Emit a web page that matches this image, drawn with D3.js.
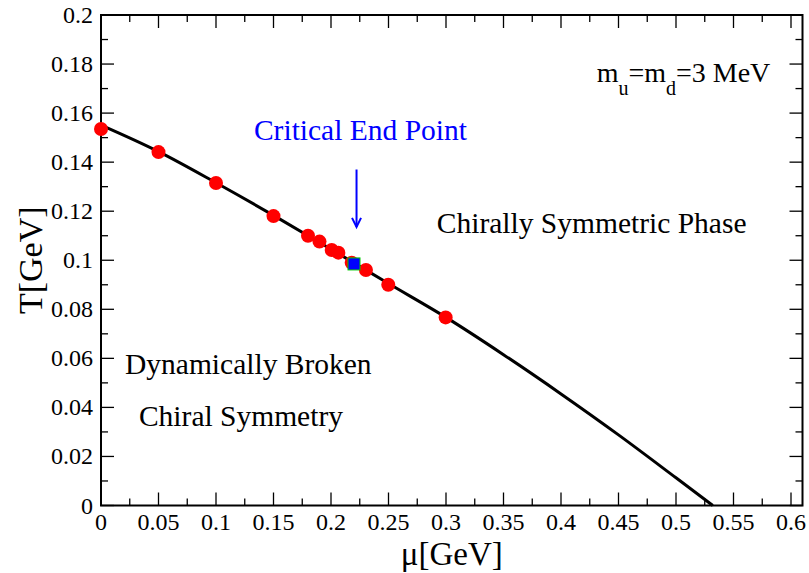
<!DOCTYPE html>
<html>
<head>
<meta charset="utf-8">
<script src="https://cdn.jsdelivr.net/npm/d3@7"></script>
<style>
  html, body { margin: 0; padding: 0; background: #fff; }
  svg { display: block; }
</style>
</head>
<body>
<svg id="chart" width="809" height="573"></svg>
<script>
// Phase boundary curve T(mu)
const curveMu = [0, 0.05, 0.1, 0.15, 0.2, 0.25, 0.3, 0.35, 0.4, 0.45, 0.5, 0.532];
const curveT  = [0.1551, 0.1443, 0.1316, 0.1183, 0.1045, 0.0905, 0.0767, 0.0615, 0.0455, 0.0288, 0.0113, 0];

// Computed transition points
const pointMu = [0, 0.05, 0.1, 0.15, 0.18, 0.19, 0.2006, 0.2064, 0.218, 0.2304, 0.2498, 0.2997];
const pointT  = [0.1535, 0.1441, 0.1315, 0.1180, 0.1100, 0.1076, 0.1042, 0.1031, 0.0990, 0.0960, 0.0900, 0.0767];

// Critical end point
const cepMu = [0.22];
const cepT  = [0.0985];

// Axis ticks
const xTicks = [0, 0.05, 0.1, 0.15, 0.2, 0.25, 0.3, 0.35, 0.4, 0.45, 0.5, 0.55, 0.6];
const xTickLabels = ["0", "0.05", "0.1", "0.15", "0.2", "0.25", "0.3", "0.35", "0.4", "0.45", "0.5", "0.55", "0.6"];
const yTicks = [0, 0.02, 0.04, 0.06, 0.08, 0.1, 0.12, 0.14, 0.16, 0.18, 0.2];
const yTickLabels = ["0", "0.02", "0.04", "0.06", "0.08", "0.1", "0.12", "0.14", "0.16", "0.18", "0.2"];

const FONT = "'Liberation Serif', 'Times New Roman', Times, serif";

const svg = d3.select("#chart").attr("font-family", FONT);
const x = d3.scaleLinear().domain([0, 0.61]).range([101, 802.5]);
const y = d3.scaleLinear().domain([0, 0.2]).range([505.5, 15]);

const x0 = x(0), x1 = x(0.61), y0 = y(0), y1 = y(0.2);
const majorLen = 13, minorLen = 7;

// Minor tick values
const xMinor = d3.range(0.025, 0.61, 0.05);
const yMinor = d3.range(0.01, 0.2, 0.02);

const ticks = svg.append("g").attr("stroke", "#000").attr("stroke-width", 1.3);
// bottom & top
xTicks.forEach(v => {
  ticks.append("line").attr("x1", x(v)).attr("x2", x(v)).attr("y1", y0).attr("y2", y0 - majorLen);
  ticks.append("line").attr("x1", x(v)).attr("x2", x(v)).attr("y1", y1).attr("y2", y1 + majorLen);
});
xMinor.forEach(v => {
  ticks.append("line").attr("x1", x(v)).attr("x2", x(v)).attr("y1", y0).attr("y2", y0 - minorLen);
  ticks.append("line").attr("x1", x(v)).attr("x2", x(v)).attr("y1", y1).attr("y2", y1 + minorLen);
});
// left & right
yTicks.forEach(v => {
  ticks.append("line").attr("y1", y(v)).attr("y2", y(v)).attr("x1", x0).attr("x2", x0 + majorLen);
  ticks.append("line").attr("y1", y(v)).attr("y2", y(v)).attr("x1", x1).attr("x2", x1 - majorLen);
});
yMinor.forEach(v => {
  ticks.append("line").attr("y1", y(v)).attr("y2", y(v)).attr("x1", x0).attr("x2", x0 + minorLen);
  ticks.append("line").attr("y1", y(v)).attr("y2", y(v)).attr("x1", x1).attr("x2", x1 - minorLen);
});

// frame
svg.append("rect")
  .attr("x", x0).attr("y", y1).attr("width", x1 - x0).attr("height", y0 - y1)
  .attr("fill", "none").attr("stroke", "#000").attr("stroke-width", 2);

// tick labels
svg.append("g").selectAll("text").data(xTicks).join("text")
  .attr("x", d => x(d)).attr("y", 530)
  .attr("text-anchor", "middle").attr("font-size", 24)
  .text((d, i) => xTickLabels[i]);

svg.append("g").selectAll("text").data(yTicks).join("text")
  .attr("x", 93).attr("y", d => y(d) + 8)
  .attr("text-anchor", "end").attr("font-size", 24)
  .text((d, i) => yTickLabels[i]);

// axis titles
svg.append("text")
  .attr("x", (x0 + x1) / 2).attr("y", 565)
  .attr("text-anchor", "middle").attr("font-size", 33)
  .text("\u03bc[GeV]");

svg.append("text")
  .attr("transform", `translate(42,${(y0 + y1) / 2}) rotate(-90)`)
  .attr("text-anchor", "middle").attr("font-size", 34)
  .text("T[GeV]");

// phase boundary
const lineData = curveMu.map((m, i) => [m, curveT[i]]);
svg.append("path")
  .datum(lineData)
  .attr("fill", "none").attr("stroke", "#000").attr("stroke-width", 3)
  .attr("d", d3.line().x(d => x(d[0])).y(d => y(d[1])).curve(d3.curveMonotoneX));

// transition points
svg.append("g").selectAll("circle").data(pointMu).join("circle")
  .attr("cx", d => x(d)).attr("cy", (d, i) => y(pointT[i]))
  .attr("r", 7).attr("fill", "#ff0000");

// critical end point marker
svg.append("g").selectAll("rect").data(cepMu).join("rect")
  .attr("x", d => x(d) - 6).attr("y", (d, i) => y(cepT[i]) - 6)
  .attr("width", 12).attr("height", 12)
  .attr("fill", "#0000ff").attr("stroke", "#00cc00").attr("stroke-width", 1);

// annotations
const ann = svg.append("g").attr("font-size", 29.5);
ann.append("text").attr("x", x(0.133)).attr("y", y(0.149)).attr("fill", "#0000ff").text("Critical End Point");
ann.append("text").attr("x", x(0.292)).attr("y", y(0.1111)).text("Chirally Symmetric Phase");
ann.append("text").attr("x", x(0.0209)).attr("y", y(0.0536)).text("Dynamically Broken");
ann.append("text").attr("x", x(0.033)).attr("y", y(0.0324)).text("Chiral Symmetry");

const mass = svg.append("text").attr("x", x(0.431)).attr("y", y(0.1728)).attr("font-size", 28);
mass.append("tspan").text("m");
mass.append("tspan").attr("font-size", 20).attr("dy", 13).text("u");
mass.append("tspan").attr("dy", -13).text("=m");
mass.append("tspan").attr("font-size", 20).attr("dy", 13).text("d");
mass.append("tspan").attr("dy", -13).text("=3 MeV");

// arrow pointing at the critical end point
const ax = x(0.2222), ayTop = y(0.137), ayBot = y(0.1136);
const arrow = svg.append("g").attr("stroke", "#0000ff").attr("stroke-width", 2).attr("fill", "none");
arrow.append("line").attr("x1", ax).attr("x2", ax).attr("y1", ayTop).attr("y2", ayBot);
arrow.append("path").attr("d", `M${ax - 4.5},${ayBot - 9} L${ax},${ayBot} L${ax + 4.5},${ayBot - 9}`);
</script>
</body>
</html>
